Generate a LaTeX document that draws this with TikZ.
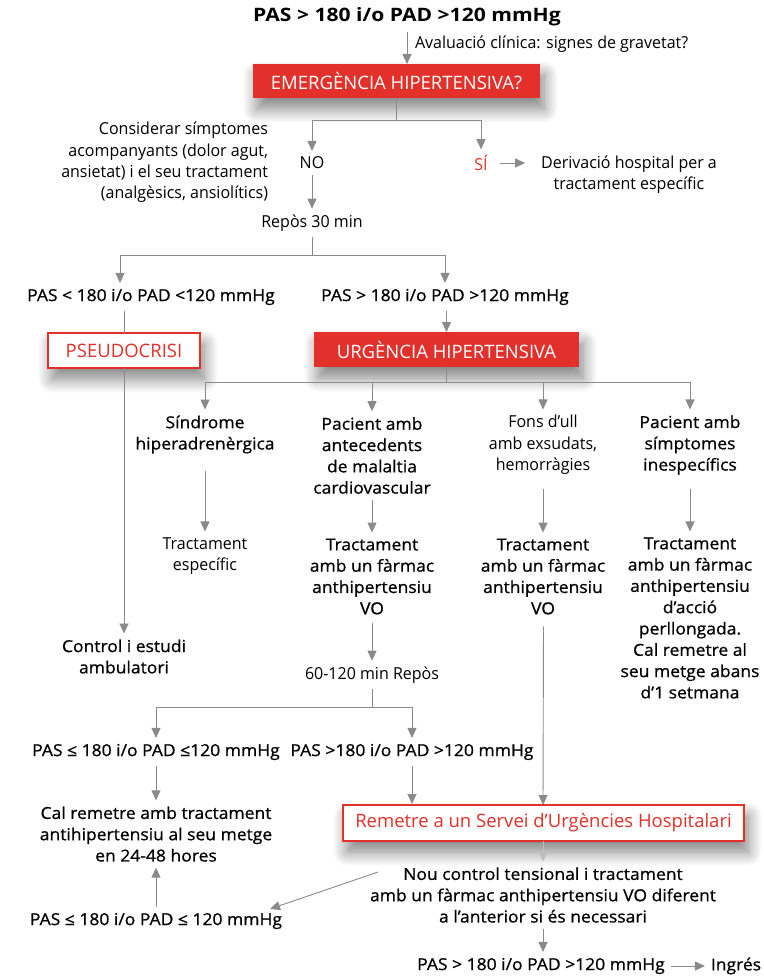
\documentclass[tikz,border=0pt]{standalone}
\usepackage{fontspec}
\setmainfont{Open Sans}[FakeStretch=0.97]
\newfontfamily\medfam{Open Sans}[FakeStretch=1.06,FakeBold=0.8]
\newfontfamily\boldfam{Open Sans Bold}[FakeStretch=1.14]
\newfontfamily\boxfam{Open Sans}[FakeStretch=1.0]
\usetikzlibrary{arrows.meta,shadows.blur}
\definecolor{ured}{HTML}{E3302A}
\definecolor{agray}{HTML}{8A8A8A}
\definecolor{lgray}{HTML}{BDBDBD}
\newcommand\fnL{\fontsize{16.5}{21.3}\selectfont}
\newcommand\fnM{\medfam\fontsize{16.5}{21.3}\selectfont}
\newcommand\fnB{\boldfam\fontsize{18.5}{21.3}\selectfont}
\newcommand\fnX{\boxfam\fontsize{18.5}{21.3}\selectfont}
\begin{document}
\begin{tikzpicture}[x=1pt,y=-1pt,
  txt/.style={inner sep=0pt, outer sep=6pt, align=center, font=\fnL},
  med/.style={txt, font=\fnM},
  shad/.style={blur shadow={shadow xshift=4pt, shadow yshift=-11pt, shadow blur radius=14pt, shadow blur steps=12, shadow opacity=50}},
  redbox/.style={fill=ured, text=white, inner sep=0pt, outer sep=0pt, minimum height=34pt, font=\fnX, shad},
  redframe/.style={draw=ured, line width=1.6pt, fill=white, text=ured, inner sep=0pt, outer sep=0pt, minimum height=35pt, font=\fnX, shad},
  ln/.style={draw=agray, line width=0.9pt},
  arr/.style={ln, -{Triangle[length=10pt,width=9pt]}}
]
\useasboundingbox (0,0) rectangle (763,976);

% top
\node[txt, font=\fnB] (title) at (407,17) {PAS > 180 i/o PAD >120 mmHg};
\node[txt, anchor=west, outer sep=0pt] (aval) at (415,44) {Avaluació clínica: signes de gravetat?};
\node[redbox, minimum width=287pt] (emerg) at (396.5,81) {EMERGÈNCIA HIPERTENSIVA?};
\draw[arr] (title) -- (title |- emerg.north);

\coordinate (jE) at (396.5,120);
\coordinate (jEL) at (312,120);
\coordinate (jER) at (481,120);
\node[txt] (no) at (312,163) {NO};
\node[txt, text=ured] (si) at (481,163) {SÍ};
\node[txt] (deriv) at (629,174.5) {Derivació hospital per a\\tractament específic};
\node[txt, anchor=east, align=right, outer sep=0pt] (consid) at (268,162.5) {Considerar símptomes\\acompanyants (dolor agut,\\ansietat) i el seu tractament\\(analgèsics, ansiolítics)};
\draw[ln] (emerg) -- (jE);
\draw[ln] (jEL) -- (jER);
\draw[arr] (jEL) -- (no);
\draw[arr] (jER) -- (si);
\draw[arr, shorten <=6pt, shorten >=10pt] (si.east) -- (si.east -| deriv.west);

\node[txt] (repos) at (312,223) {Repòs 30 min};
\draw[arr] (no) -- (repos);

% second level
\coordinate (jA) at (312,255);
\coordinate (jAL) at (120,255);
\coordinate (jAR) at (445,255);
\node[med] (pasL) at (151,297) {PAS < 180 i/o PAD <120 mmHg};
\node[med] (pasR) at (445,297) {PAS > 180 i/o PAD >120 mmHg};
\draw[ln] (repos) -- (jA);
\draw[ln] (jAL) -- (jAR);
\draw[arr] (jAL) -- (jAL |- pasL.north);
\draw[arr] (jAR) -- (pasR);

\node[redframe, minimum width=152pt] (pseudo) at (124,350.5) {PSEUDOCRISI};
\node[redbox, minimum width=265pt, minimum height=35pt] (urg) at (446.5,349.5) {URGÈNCIA HIPERTENSIVA};
\draw[ln] (pasL.south -| pseudo.north) -- (pseudo.north);
\draw[arr] (pasR.south -| urg.north) -- (urg.north);

% urgency branches
\coordinate (jU) at (446.5,382);
\coordinate (jU1) at (205,382);
\coordinate (jU4) at (690,382);
\node[med] (sind) at (205,434.5) {Síndrome\\hiperadrenèrgica};
\node[med] (pac1) at (372,455.5) {Pacient amb\\antecedents\\de malaltia\\cardiovascular};
\node[txt] (fons) at (543,445) {Fons d’ull\\amb exsudats,\\hemorràgies};
\node[med] (pac2) at (690,445) {Pacient amb\\símptomes\\inespecífics};
\draw[ln] (urg) -- (jU);
\draw[ln] (jU1) -- (jU4);
\draw[arr] (jU1) -- (sind);
\draw[arr] (jU1 -| pac1) -- (pac1);
\draw[arr] (jU1 -| fons) -- (fons);
\draw[arr] (jU4) -- (pac2);

\node[txt] (tracE) at (205,556) {Tractament\\específic};
\node[med] (trac1) at (372,576.5) {Tractament\\amb un fàrmac\\anthipertensiu\\VO};
\node[med] (trac2) at (543,576.5) {Tractament\\amb un fàrmac\\anthipertensiu\\VO};
\node[med] (trac3) at (690,618) {Tractament\\amb un fàrmac\\anthipertensiu\\d’acció\\perllongada.\\Cal remetre al\\seu metge abans\\d’1 setmana};
\draw[arr, shorten <=12pt] (sind) -- (tracE);
\draw[arr] (pac1) -- (trac1);
\draw[arr, shorten <=8pt] (fons) -- (trac2);
\draw[arr, shorten <=8pt] (pac2) -- (trac3);

\node[med] (control) at (124,656.5) {Control i estudi\\ambulatori};
\draw[arr] (pseudo) -- (control);

\node[txt] (rep60) at (372,675) {60-120 min Repòs};
\draw[arr, shorten <=3pt] (trac1) -- (rep60);

% lower part
\coordinate (jR) at (372,707);
\coordinate (jRL) at (156,707);
\coordinate (jRR) at (412,707);
\node[med] (pasLE) at (156,752) {PAS ≤ 180 i/o PAD ≤120 mmHg};
\node[med] (pasGT) at (412,752) {PAS >180 i/o PAD >120 mmHg};
\draw[ln] (rep60) -- (jR);
\draw[ln] (jRL) -- (jRR);
\draw[arr] (jRL) -- (jRL |- pasLE.north);
\draw[arr] (jRR) -- (pasGT);

\node[med] (calrem) at (156,834) {Cal remetre amb tractament\\antihipertensiu al seu metge\\en 24-48 hores};
\node[redframe, minimum width=401pt, minimum height=36pt] (remet) at (543.5,823) {Remetre a un Servei d’Urgències Hospitalari};
\draw[arr] (pasLE.south -| calrem.north) -- (calrem);
\draw[arr, shorten >=1pt] (pasGT) -- (pasGT |- remet.north);
\draw[arr, shorten <=6pt] (trac2.south -| remet.north) -- (remet.north -| trac2.south);

\node[med] (nou) at (543,895) {Nou control tensional i tractament\\amb un fàrmac anthipertensiu VO diferent\\a l’anterior si és necessari};
\node[med] (pasLE2) at (156,921) {PAS ≤ 180 i/o PAD ≤ 120 mmHg};
\draw[arr, draw=lgray] (remet.south -| nou.north) -- (nou.north);
\coordinate (dgs) at (378,872);
\draw[arr] (dgs) -- ([xshift=-18pt,yshift=-2pt]pasLE2.north east);
\draw[arr] (pasLE2) -- (calrem);

\node[med] (pasfin) at (541,966) {PAS > 180 i/o PAD >120 mmHg};
\node[med] (ingres) at (736,966) {Ingrés};
\draw[arr] (nou) -- (pasfin.north -| nou.south);
\draw[arr] (pasfin) -- (ingres);
\end{tikzpicture}
\end{document}
